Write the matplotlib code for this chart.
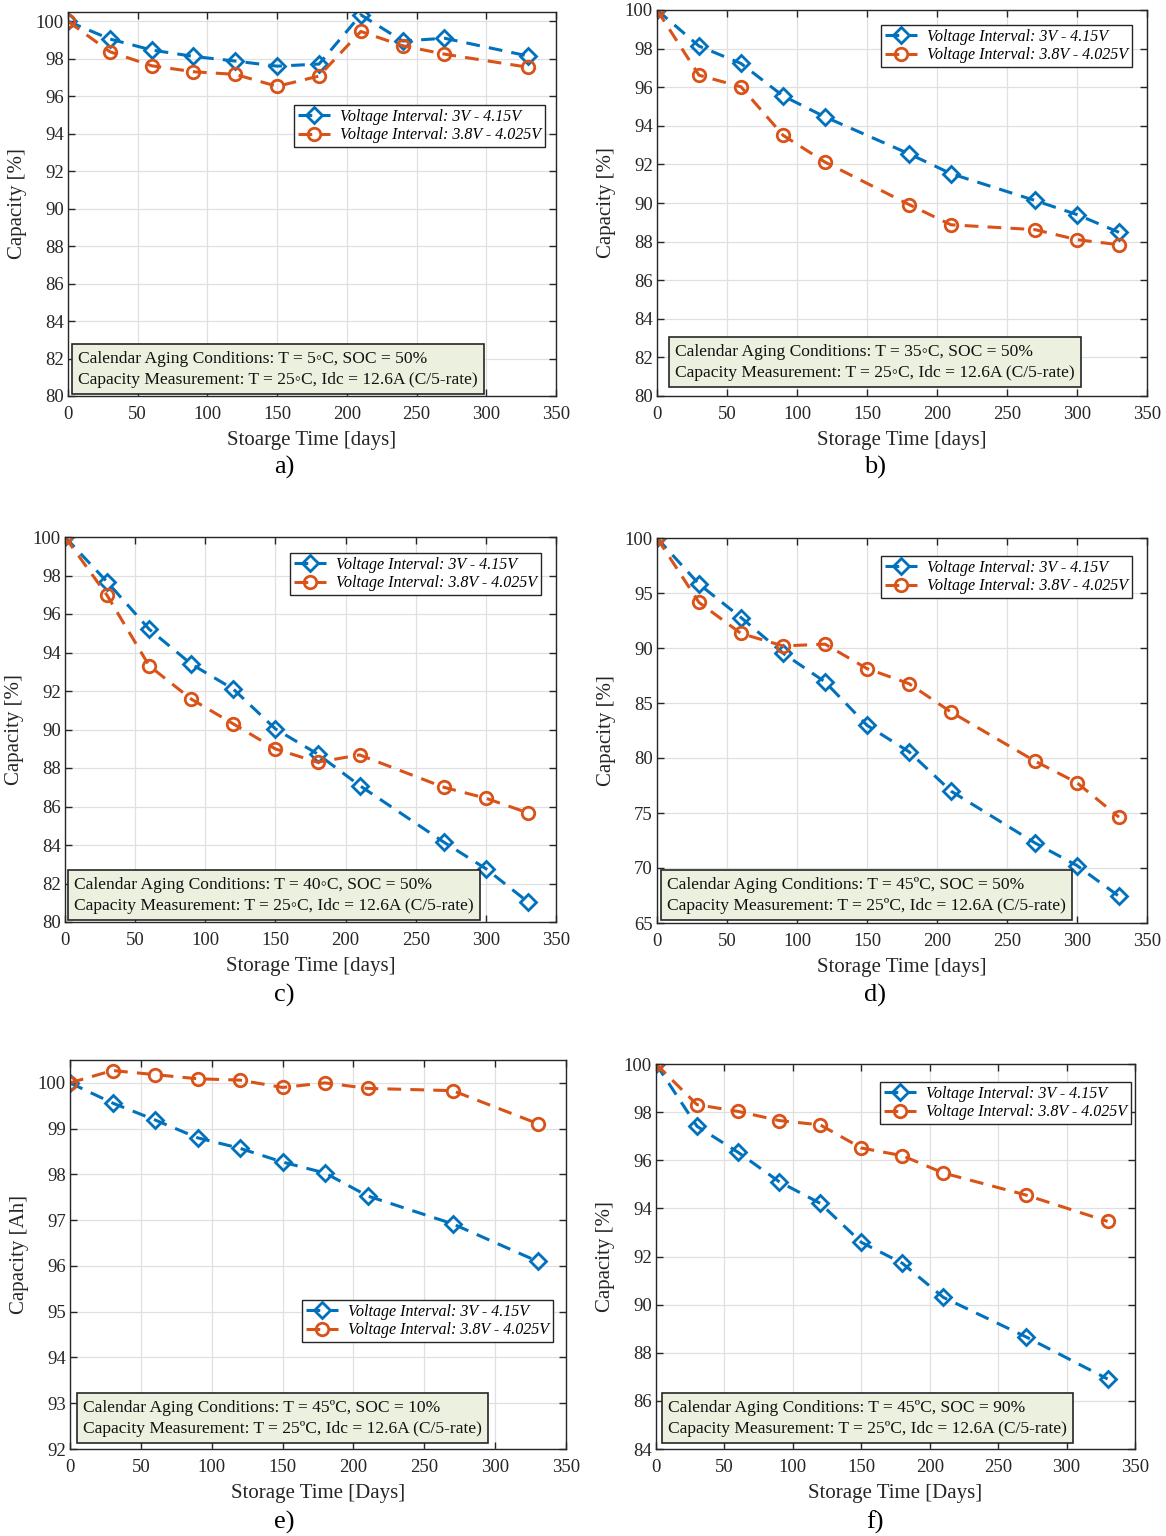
import matplotlib
matplotlib.use("Agg")
import matplotlib.pyplot as plt
import numpy as np

plt.rcParams['font.family'] = ['Liberation Serif', 'DejaVu Serif']

# ---------------- data ----------------
days_a = [0, 30, 60, 90, 120, 150, 180, 210, 240, 270, 330]
blue_a = [100, 99.06, 98.47, 98.13, 97.88, 97.61, 97.72, 100.35, 98.95, 99.1, 98.15]
orange_a = [100, 98.38, 97.63, 97.31, 97.17, 96.53, 97.08, 99.46, 98.7, 98.25, 97.55]

days_b = [0, 30, 60, 90, 120, 180, 210, 270, 300, 330]
blue_b = [100, 98.13, 97.23, 95.55, 94.46, 92.55, 91.52, 90.13, 89.4, 88.48]
orange_b = [100, 96.62, 96.02, 93.51, 92.12, 89.92, 88.87, 88.62, 88.1, 87.84]

days_c = [0, 30, 60, 90, 120, 150, 180, 210, 270, 300, 330]
blue_c = [100, 97.67, 95.21, 93.4, 92.1, 90.03, 88.73, 87.09, 84.15, 82.77, 81.04]
orange_c = [100, 96.97, 93.31, 91.58, 90.29, 88.99, 88.3, 88.68, 87.0, 86.43, 85.67]

days_d = [0, 30, 60, 90, 120, 150, 180, 210, 270, 300, 330]
blue_d = [100, 95.81, 92.77, 89.53, 86.92, 82.97, 80.57, 76.99, 72.28, 70.22, 67.43]
orange_d = [100, 94.14, 91.32, 90.19, 90.35, 88.13, 86.76, 84.18, 79.72, 77.75, 74.62]

days_e = [0, 30, 60, 90, 120, 150, 180, 210, 270, 330]
blue_e = [100, 99.56, 99.19, 98.8, 98.57, 98.27, 98.03, 97.53, 96.92, 96.1]
orange_e = [100, 100.27, 100.18, 100.09, 100.06, 99.9, 100.0, 99.88, 99.83, 99.11]

days_f = [0, 30, 60, 90, 120, 150, 180, 210, 270, 330]
blue_f = [100, 97.41, 96.33, 95.11, 94.21, 92.59, 91.72, 90.3, 88.67, 86.91]
orange_f = [100, 98.31, 98.03, 97.65, 97.47, 96.51, 96.19, 95.47, 94.56, 93.46]

legend_labels = ["Voltage Interval: 3V - 4.15V", "Voltage Interval: 3.8V - 4.025V"]
conditions = [
    "Calendar Aging Conditions: T = 5\u25e6C, SOC = 50%\nCapacity Measurement: T = 25\u25e6C, Idc = 12.6A (C/5-rate)",
    "Calendar Aging Conditions: T = 35\u25e6C, SOC = 50%\nCapacity Measurement: T = 25\u25e6C, Idc = 12.6A (C/5-rate)",
    "Calendar Aging Conditions: T = 40\u25e6C, SOC = 50%\nCapacity Measurement: T = 25\u25e6C, Idc = 12.6A (C/5-rate)",
    "Calendar Aging Conditions: T = 45\u00baC, SOC = 50%\nCapacity Measurement: T = 25\u00baC, Idc = 12.6A (C/5-rate)",
    "Calendar Aging Conditions: T = 45\u00baC, SOC = 10%\nCapacity Measurement: T = 25\u00baC, Idc = 12.6A (C/5-rate)",
    "Calendar Aging Conditions: T = 45\u00baC, SOC = 90%\nCapacity Measurement: T = 25\u00baC, Idc = 12.6A (C/5-rate)",
]
xlabels = ["Stoarge Time [days]", "Storage Time [days]", "Storage Time [days]",
           "Storage Time [days]", "Storage Time [Days]", "Storage Time [Days]"]
ylabels = ["Capacity [%]", "Capacity [%]", "Capacity [%]", "Capacity [%]",
           "Capacity [Ah]", "Capacity [%]"]
panel_tags = ["a)", "b)", "c)", "d)", "e)", "f)"]
ylims = [(80, 100.5), (80, 100), (80, 100), (65, 100), (92, 100.5), (84, 100)]
ysteps = [2, 2, 2, 5, 1, 2]
xticks = [0, 50, 100, 150, 200, 250, 300, 350]

data = [(days_a, blue_a, orange_a), (days_b, blue_b, orange_b), (days_c, blue_c, orange_c),
        (days_d, blue_d, orange_d), (days_e, blue_e, orange_e), (days_f, blue_f, orange_f)]

# ---------------- layout (pixels) ----------------
W, H = 1166, 1536
fig = plt.figure(figsize=(W / 100, H / 100), dpi=100)

boxes = [(68, 12, 556, 396), (657, 10, 1147, 396),
         (65, 537, 556, 922), (657, 538, 1147, 923),
         (70, 1060, 566, 1449), (656, 1064, 1135, 1449)]
leg_ur = [(545, 105), (1132, 25), (541, 553), (1132, 556), (553, 1300), (1131, 1082)]
ann_ll = [(72, 394), (669, 387), (68, 920), (661, 920), (77, 1443), (662, 1443)]
tag_pos = [(284, 467), (875, 467), (284, 995), (875, 995), (284, 1522), (875, 1522)]

BLUE = '#0072BD'
ORANGE = '#D95319'

def fx(px):
    return px / W

def fy(py):
    return 1 - py / H

for i in range(6):
    l, t, r, b = boxes[i]
    ax = fig.add_axes([fx(l), fy(b), fx(r) - fx(l), fy(t) - fy(b)])
    d, bl, orn = data[i]
    ax.plot(d, bl, linestyle=(0, (4.5, 3)), color=BLUE, lw=2.2, marker='D',
            markersize=8, markerfacecolor='none', markeredgewidth=2.0, label=legend_labels[0])
    ax.plot(d, orn, linestyle=(0, (4.5, 3)), color=ORANGE, lw=2.2, marker='o',
            markersize=9, markerfacecolor='none', markeredgewidth=2.0, label=legend_labels[1])
    lo, hi = ylims[i]
    ax.set_xlim(0, 350)
    ax.set_ylim(lo, hi)
    ax.set_xticks(xticks)
    yt = np.arange(lo, 100.001, ysteps[i])
    ax.set_yticks(yt)
    ax.set_yticklabels([f"{int(v)}" for v in yt])
    ax.grid(True, color='#e0e0e0', lw=0.9)
    ax.set_axisbelow(True)
    ax.tick_params(direction='in', top=True, right=True, labelsize=13.5,
                   length=5, width=1, color='#262626', labelcolor='#262626')
    ax.tick_params(axis='x', pad=7)
    ax.tick_params(axis='y', pad=3)
    for s in ax.spines.values():
        s.set_color('#262626')
        s.set_linewidth(1.0)
    ax.set_xlabel(xlabels[i], fontsize=15, color='#262626', labelpad=6)
    ax.set_ylabel(ylabels[i], fontsize=15, color='#262626', labelpad=6)

    ux, uy = leg_ur[i]
    leg = ax.legend(loc='upper right', bbox_to_anchor=(fx(ux), fy(uy)),
                    bbox_transform=fig.transFigure, borderaxespad=0,
                    prop={'family': 'Liberation Serif', 'style': 'italic', 'size': 11.5},
                    frameon=True, fancybox=False, edgecolor='#262626', framealpha=1,
                    handlelength=2.0, handletextpad=0.6, borderpad=0.25, labelspacing=0.15)
    leg.get_frame().set_linewidth(1.0)

    axx, ayy = ann_ll[i]
    fig.text(fx(axx + 6), fy(ayy - 6), conditions[i], fontsize=12.6, ha='left', va='bottom',
             color='#111111', linespacing=1.45,
             bbox=dict(boxstyle='square,pad=0.35', facecolor='#EBF1DE',
                       edgecolor='#262626', lw=1.2))

    tx, ty = tag_pos[i]
    fig.text(fx(tx), fy(ty), panel_tags[i], fontsize=19, ha='center', va='center')

fig.savefig('out.png', dpi=100)
